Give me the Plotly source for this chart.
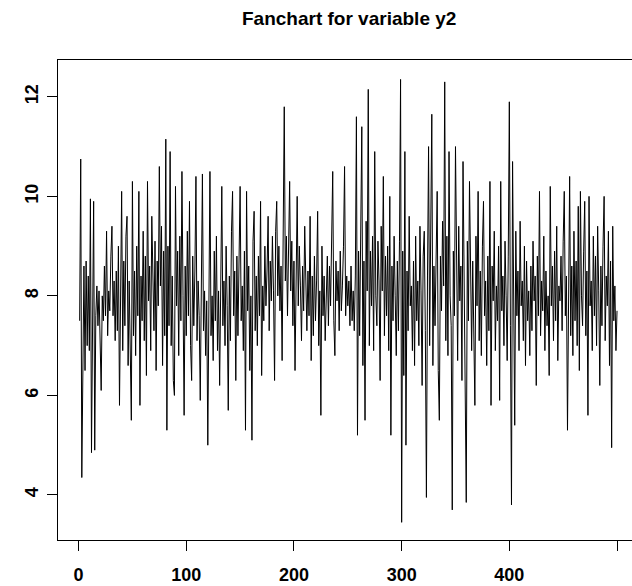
import plotly.graph_objects as go

y2 = [
    7.5, 10.75, 4.35, 7.3, 8.6, 6.5, 8.7, 7.0, 8.4, 6.9,
    9.95, 4.85, 8.3, 9.9, 4.9, 7.6, 8.2, 7.4, 8.1, 7.0,
    6.1, 8.0, 7.5, 8.6, 7.6, 9.3, 7.2, 8.1, 7.7, 8.8,
    9.4, 7.6, 8.3, 7.1, 8.5, 7.3, 9.0, 5.8, 8.4, 10.1,
    6.9, 8.7, 7.4, 9.2, 9.6, 6.6, 8.3, 7.0, 5.5, 10.3,
    7.2, 8.5, 6.8, 9.0, 7.6, 10.1, 5.8, 8.4, 7.5, 9.3,
    7.1, 8.8, 6.4, 10.3, 7.9, 8.6, 6.9, 9.6, 8.0, 7.3,
    9.1, 6.5, 8.7, 7.8, 10.6, 8.2, 9.4, 6.6, 8.9, 7.2,
    11.15, 5.3, 9.0, 7.4, 10.9, 7.0, 8.4, 6.3, 6.0, 10.2,
    7.8, 8.9, 6.8, 9.2, 7.5, 10.5, 8.0, 5.6, 8.6, 7.2,
    9.3, 7.6, 9.9, 7.0, 6.3, 8.8, 7.4, 8.5, 10.4, 7.1,
    8.3, 7.6, 5.9, 9.0, 10.45, 7.3, 8.1, 6.8, 7.9, 5.0,
    8.7, 10.5, 7.2, 8.0, 6.7, 8.9, 7.5, 9.2, 6.9, 8.1,
    6.2, 8.6, 10.2, 7.4, 8.3, 7.0, 9.0, 7.8, 5.7, 8.4,
    7.1, 9.3, 10.1, 7.6, 8.5, 6.3, 8.8, 7.2, 9.4, 10.2,
    7.5, 8.2, 6.9, 8.9, 5.3, 10.1, 7.7, 8.6, 6.5, 8.0,
    5.1, 9.1, 9.7, 7.3, 8.4, 7.0, 8.8, 7.6, 9.9, 6.4,
    8.2, 7.5, 9.0, 7.8, 8.5, 9.6, 7.3, 8.7, 7.9, 9.2,
    8.1, 6.3, 9.3, 9.9, 8.0, 9.0, 7.7, 8.6, 6.7, 9.4,
    11.8, 8.3, 9.2, 7.6, 8.8, 10.3, 8.1, 9.1, 7.4, 8.7,
    6.5, 8.9, 10.0, 7.8, 9.0, 8.2, 7.1, 8.6, 7.7, 9.4,
    8.0, 7.3, 8.5, 7.6, 9.6, 6.7, 8.4, 7.2, 8.8, 7.5,
    8.3, 9.7, 7.0, 8.1, 5.6, 9.0, 7.6, 8.4, 7.1, 8.0,
    8.8, 7.4, 8.6, 7.8, 9.1, 10.5, 7.5, 6.8, 8.7, 7.9,
    8.5, 7.3, 8.9, 7.7, 8.2, 9.0, 10.6, 7.6, 8.4, 7.8,
    8.3, 7.4, 8.6, 7.5, 8.1, 7.3, 8.4, 11.6, 5.2, 8.9,
    7.2, 9.3, 11.4, 6.6, 8.7, 5.5, 9.5, 8.1, 12.15, 7.0,
    8.9, 7.8, 9.2, 6.9, 10.9, 8.0, 7.4, 9.1, 8.3, 6.3,
    9.4, 8.1, 10.4, 7.2, 8.8, 7.6, 9.0, 6.9, 10.0, 5.2,
    8.6, 7.5, 9.2, 8.0, 6.8, 8.7, 7.3, 9.1, 12.35, 3.45,
    8.9, 6.4, 10.9, 5.0, 8.5, 7.3, 9.6, 7.8, 8.2, 6.9,
    8.7, 6.6, 9.2, 7.5, 8.3, 7.0, 9.4, 8.1, 6.2, 8.8,
    9.3, 7.3, 3.95, 8.4, 11.0, 7.0, 9.1, 11.65, 6.6, 8.6,
    7.4, 9.0, 10.1, 6.5, 5.5, 8.8, 7.7, 9.5, 8.2, 12.3,
    7.1, 9.2, 6.8, 10.9, 8.0, 7.4, 3.7, 8.9, 7.6, 11.0,
    8.3, 6.7, 9.4, 7.9, 8.6, 6.3, 10.7, 8.1, 7.2, 3.85,
    9.1, 7.5, 10.3, 8.0, 6.9, 8.7, 7.4, 5.8, 9.2, 7.8,
    10.1, 7.1, 8.5, 6.8, 9.0, 9.9, 7.6, 8.3, 6.6, 8.8,
    7.3, 10.3, 5.8, 8.6, 7.9, 9.3, 6.9, 8.2, 7.5, 9.0,
    5.9, 10.3, 7.7, 8.4, 7.0, 9.1, 8.0, 6.7, 8.8, 11.9,
    7.4, 3.8, 10.7, 8.2, 5.4, 9.3, 7.6, 8.5, 6.9, 9.5,
    7.8, 8.3, 7.1, 9.0, 6.6, 8.7, 7.5, 8.1, 6.8, 8.6,
    7.3, 9.1, 7.9, 8.4, 6.2, 8.8, 7.6, 10.1, 7.2, 8.3,
    7.7, 9.2, 6.9, 8.5, 7.4, 8.0, 6.4, 10.2, 7.8, 8.6,
    7.1, 8.9, 7.5, 9.4, 6.7, 8.2, 7.9, 8.8, 7.3, 9.1,
    10.1, 7.6, 8.4, 5.3, 9.0, 10.4, 7.2, 8.6, 6.8, 9.3,
    7.5, 8.7, 7.0, 9.8, 6.5, 10.1, 8.0, 7.4, 8.9, 9.9,
    7.2, 8.5, 5.6, 10.0, 7.8, 8.3, 6.9, 9.2, 7.6, 8.8,
    7.0, 9.4, 8.1, 6.2, 8.6, 7.4, 9.0, 10.0, 7.1, 8.4,
    7.8, 9.3, 6.6, 8.7, 4.95, 9.4, 7.5, 8.2, 6.9, 7.7,
]
x_index = list(range(1, len(y2) + 1))
x_ticks = [0, 100, 200, 300, 400, 500]
y_ticks = [4, 6, 8, 10, 12]
title_text = "Fanchart for variable y2"

fig = go.Figure()
fig.add_trace(go.Scatter(x=x_index, y=y2, mode="lines",
                         line=dict(color="black", width=1), showlegend=False,
                         hoverinfo="skip"))

tickfont = dict(family="Liberation Sans, Arial, sans-serif", size=18,
                color="black", weight="bold")
fig.update_layout(
    width=632, height=586,
    margin=dict(l=58, r=0, t=60, b=46),
    paper_bgcolor="white", plot_bgcolor="white",
    showlegend=False,
    annotations=[dict(text=title_text, xref="paper", yref="paper",
                      x=(349 - 58) / (632 - 58), y=1 + 42 / 480,
                      xanchor="center", yanchor="middle", showarrow=False,
                      font=dict(family="Liberation Sans, Arial, sans-serif",
                                size=19, color="black", weight="bold"))],
)
fig.update_xaxes(range=[-19.1, 513.9], tickvals=x_ticks,
                 ticks="outside", ticklen=10, tickcolor="black", tickwidth=1,
                 ticklabelstandoff=8,
                 showline=True, linecolor="black", linewidth=1, mirror=True,
                 showgrid=False, zeroline=False, tickfont=tickfont)
fig.update_yaxes(range=[3.095, 12.74], tickvals=y_ticks, tickangle=-90,
                 ticks="outside", ticklen=10, tickcolor="black", tickwidth=1,
                 ticklabelstandoff=2,
                 showline=True, linecolor="black", linewidth=1, mirror=False,
                 showgrid=False, zeroline=False, tickfont=tickfont)

fig.write_html("out.html")
